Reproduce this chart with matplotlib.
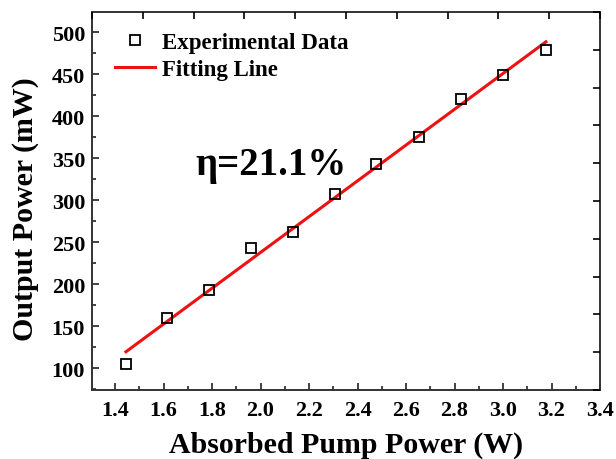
import numpy as np
import matplotlib.pyplot as plt
from matplotlib.ticker import MultipleLocator

plt.rcParams['font.family'] = 'Liberation Serif'
plt.rcParams['font.weight'] = 'bold'

# measured output power vs absorbed pump power
pump = [1.445, 1.615, 1.788, 1.962, 2.135, 2.309, 2.478, 2.652, 2.828, 3.002, 3.177]
power = [105, 160, 193, 243, 262, 307, 343, 375, 420, 449, 479]

# linear fit end points
fit_x = [1.445, 3.177]
fit_y = [119.5, 488.5]

fig = plt.figure(figsize=(6.16, 4.6), dpi=100)
ax = fig.add_axes([92/616, 1 - 391/460, 508/616, 378/460])

ax.plot(pump, power, 's', ms=7, mfc='none', mec='black', mew=1.3,
        label='Experimental Data', zorder=3)
ax.plot(fit_x, fit_y, '-', color='#ee1111', lw=2.2, label='Fitting Line')

ax.set_xlim(1.305, 3.4)
ax.set_ylim(74, 524)
ax.xaxis.set_major_locator(MultipleLocator(0.2))
ax.xaxis.set_minor_locator(MultipleLocator(0.1))
ax.yaxis.set_major_locator(MultipleLocator(50))
ax.yaxis.set_minor_locator(MultipleLocator(25))
ax.tick_params(which='both', direction='in', width=1.2, labelsize=16, colors='#222222')
ax.tick_params(which='major', length=5)
ax.tick_params(which='minor', length=3)
ax.tick_params(axis='x', pad=7)
ax.tick_params(axis='y', pad=5)
for lab in ax.get_xticklabels() + ax.get_yticklabels():
    lab.set_fontweight('bold')
    lab.set_color('black')
for s in ax.spines.values():
    s.set_linewidth(1.4)
    s.set_color('#333333')

ax.set_xlabel('Absorbed Pump Power (W)', fontsize=21.5, fontweight='bold', labelpad=8)
ax.set_ylabel('Output Power (mW)', fontsize=21.5, fontweight='bold')
ax.yaxis.set_label_coords(-0.104, 0.48)

# top and right ticks (evenly spaced, no labels)
top = ax.twiny()
top.set_xlim(0, 1)
top.set_xticks(np.linspace(0, 1, 11))
top.tick_params(direction='in', length=5, width=1.2, labeltop=False)
right = ax.twinx()
right.set_ylim(0, 1)
right.set_yticks(np.linspace(0, 1, 11))
right.tick_params(direction='in', length=5, width=1.2, labelright=False)
for a in (top, right):
    for s in a.spines.values():
        s.set_visible(False)

ax.text(2.045, 343, 'η=21.1%', fontsize=28, fontweight='bold', ha='center', va='center')

ax.legend(loc='upper left', frameon=False, fontsize=16.5, handlelength=1.75,
          borderaxespad=0.3, labelspacing=0.25, handletextpad=0.3,
          bbox_to_anchor=(0.014, 0.989))

fig.savefig('out.png', dpi=100)
